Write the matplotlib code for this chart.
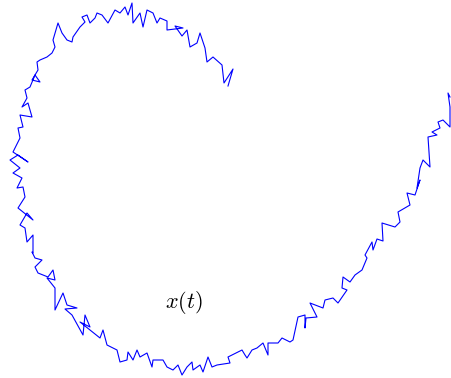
import matplotlib.pyplot as plt

plt.rcParams['mathtext.fontset'] = 'cm'

# traced path of x(t), picture coordinates (x right, y down), inner end first
px = [228, 233, 224, 222, 213, 207, 205, 200, 197, 190, 187, 182, 175, 183, 167, 167, 160, 157, 153,
      147, 143, 140, 133, 132, 128, 125, 120, 115, 108, 102, 97, 95, 90, 87, 82, 85, 80, 73, 72, 67,
      62, 58, 53, 55, 52, 47, 40, 37, 38, 32, 40, 35, 30, 25, 27, 22, 28, 32, 20, 23,
      18, 20, 13, 28, 18, 10, 20, 13, 22, 17, 23, 25, 18, 33, 27, 20, 25, 27, 33, 33,
      32, 35, 42, 35, 38, 48, 53, 55, 47, 55, 55, 63, 67, 77, 65, 72, 83, 85, 90, 80,
      100, 103, 107, 117, 120, 127, 128, 133, 137, 140, 147, 152, 153,
      163, 167, 173, 178, 182, 187, 192, 193, 200, 203, 208, 212, 217, 230, 228, 238,
      242, 245, 247, 252, 257, 263, 268, 268, 278, 282, 290, 293,
      298, 305, 305, 306, 317, 310, 323, 325, 333, 338, 347, 342, 343, 350, 355, 362, 367, 365,
      372, 373, 377, 383,
      382, 395, 400, 398, 410, 407, 415, 420, 417, 420, 423, 430, 428, 437, 432, 440, 438,
      443, 450, 450, 448, 450]
py = [86, 69, 83, 65, 57, 62, 48, 33, 43, 47, 30, 36, 26, 28, 30, 21, 18, 23, 13,
      10, 27, 13, 23, 3, 15, 7, 13, 10, 23, 15, 13, 18, 23, 15, 17, 22, 27, 37, 42, 40,
      33, 23, 40, 47, 53, 57, 60, 62, 70, 80, 82, 75, 87, 90, 98, 107, 103, 117, 115, 127,
      128, 138, 152, 162, 155, 160, 168, 173, 178, 188, 187, 197, 208, 220, 213, 225, 228, 242, 235, 253,
      252, 258, 260, 267, 273, 277, 270, 280, 278, 288, 310, 293, 305, 308, 309, 315, 335, 315, 327, 322,
      338, 330, 345, 350, 362, 360, 352, 360, 350, 357, 353, 367, 360,
      360, 367, 370, 365, 375, 367, 362, 370, 365, 372, 357, 367, 365, 363, 357, 352,
      350, 355, 358, 350, 348, 343, 355, 343, 343, 338, 342, 340,
      317, 315, 328, 318, 317, 303, 308, 300, 298, 303, 290, 288, 277, 282, 275, 270, 258, 255,
      242, 250, 239, 241,
      223, 227, 222, 212, 205, 193, 195, 180, 188, 168, 160, 167, 137, 135, 132, 128, 122,
      120, 127, 107, 93, 97]

fig = plt.figure(figsize=(4.51, 3.78), dpi=100)
ax = fig.add_axes([0, 0, 1, 1])
ax.plot(px, py, color='blue', linewidth=0.8)
ax.text(184, 302, '$x(t)$', fontsize=16, ha='center', va='center')
ax.set_xlim(0, 451)
ax.set_ylim(378, 0)
ax.axis('off')
fig.savefig('out.png', dpi=100)
